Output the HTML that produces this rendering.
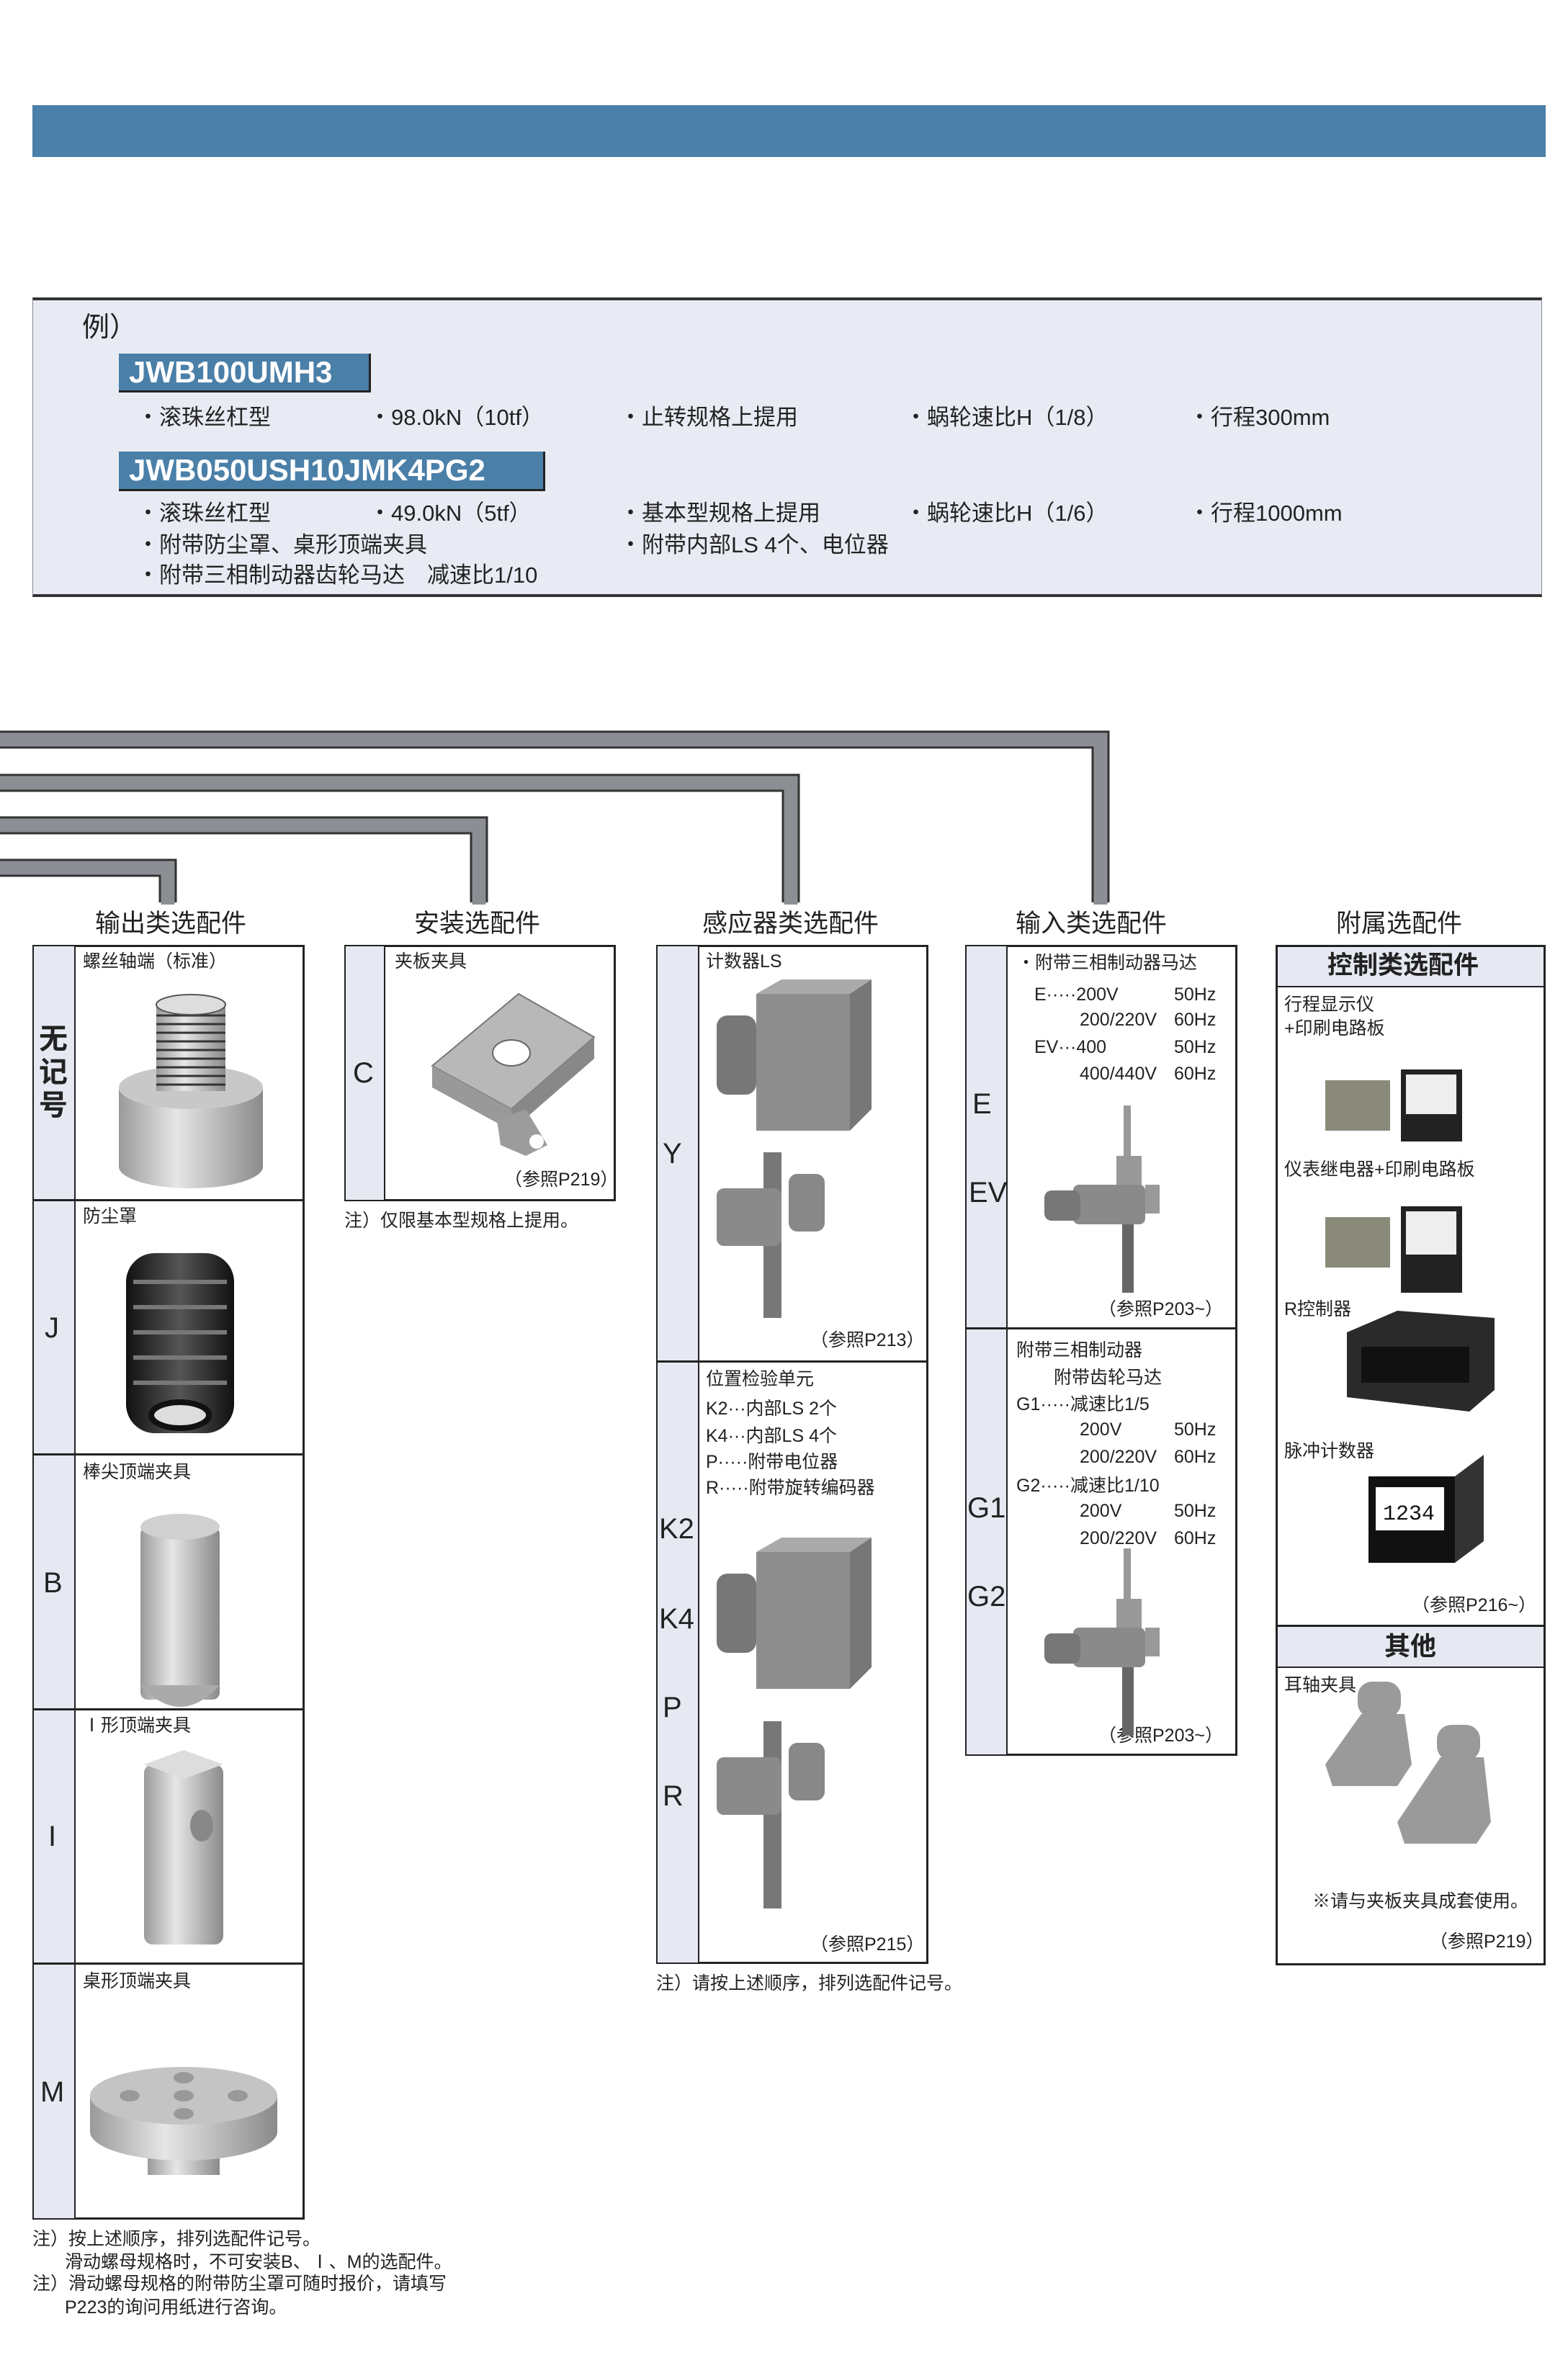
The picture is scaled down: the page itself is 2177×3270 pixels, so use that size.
<!DOCTYPE html>
<html><head><meta charset="utf-8"><style>
*{margin:0;padding:0;box-sizing:border-box}
body{width:2177px;height:3270px;background:#fff;position:relative;overflow:hidden;font-family:"Liberation Sans","Noto Sans CJK SC",sans-serif;color:#222}
.a{position:absolute;white-space:nowrap;line-height:1}
.t{font-size:31px}
.s{font-size:25px}
.box{position:absolute;border:3px solid #222;background:#fff}
.strip{position:absolute;background:#e6e9f2;border-right:2px solid #222}
.hl{position:absolute;height:3px;background:#222}
.big{font-size:40px}
.hd{font-size:35px}
.code{position:absolute;background:#4a7fa8;color:#fff;font-weight:bold;font-size:42px;border-bottom:3px solid #222;border-right:3px solid #222;padding-left:14px;line-height:52px}
</style></head><body>
<div style="position:absolute;left:45px;top:146px;width:2101px;height:72px;background:#4a80aa"></div>

<div style="position:absolute;left:45px;top:413px;width:2096px;height:416px;background:#e8ebf3;border-top:4px solid #333;border-bottom:4px solid #333;border-left:1px solid #888;border-right:1px solid #888"></div>
<div class="a" style="left:114px;top:436px;font-size:38px">例）</div>
<div class="code" style="left:165px;top:491px;width:350px;height:54px">JWB100UMH3</div>
<div class="a t" style="left:190px;top:564px">・滚珠丝杠型</div>
<div class="a t" style="left:512px;top:564px">・98.0kN（10tf）</div>
<div class="a t" style="left:860px;top:564px">・止转规格上提用</div>
<div class="a t" style="left:1256px;top:564px">・蜗轮速比H（1/8）</div>
<div class="a t" style="left:1650px;top:564px">・行程300mm</div>
<div class="code" style="left:165px;top:627px;width:592px;height:55px">JWB050USH10JMK4PG2</div>
<div class="a t" style="left:190px;top:697px">・滚珠丝杠型</div>
<div class="a t" style="left:512px;top:697px">・49.0kN（5tf）</div>
<div class="a t" style="left:860px;top:697px">・基本型规格上提用</div>
<div class="a t" style="left:1256px;top:697px">・蜗轮速比H（1/6）</div>
<div class="a t" style="left:1650px;top:697px">・行程1000mm</div>
<div class="a t" style="left:190px;top:741px">・附带防尘罩、桌形顶端夹具</div>
<div class="a t" style="left:860px;top:741px">・附带内部LS 4个、电位器</div>
<div class="a t" style="left:190px;top:783px">・附带三相制动器齿轮马达　减速比1/10</div>

<svg style="position:absolute;left:0;top:0" width="2177" height="1300">
<g fill="none" stroke-linejoin="miter" stroke-linecap="butt">
<path d="M-10 1027H1528V1253" stroke="#333" stroke-width="25"/>
<path d="M-10 1087H1098V1253" stroke="#333" stroke-width="25"/>
<path d="M-10 1146H665V1253" stroke="#333" stroke-width="25"/>
<path d="M-10 1205H233V1253" stroke="#333" stroke-width="25"/>
<path d="M-10 1027H1528V1256" stroke="#8b8e93" stroke-width="19"/>
<path d="M-10 1087H1098V1256" stroke="#8b8e93" stroke-width="19"/>
<path d="M-10 1146H665V1256" stroke="#8b8e93" stroke-width="19"/>
<path d="M-10 1205H233V1256" stroke="#8b8e93" stroke-width="19"/>
</g></svg>

<div class="a hd" style="left:132px;top:1265px">输出类选配件</div>
<div class="a hd" style="left:575px;top:1265px">安装选配件</div>
<div class="a hd" style="left:975px;top:1265px">感应器类选配件</div>
<div class="a hd" style="left:1410px;top:1265px">输入类选配件</div>
<div class="a hd" style="left:1855px;top:1265px">附属选配件</div>

<!-- Col1 -->
<div class="box" style="left:45px;top:1312px;width:378px;height:1770px"></div>
<div class="strip" style="left:47px;top:1314px;width:58px;height:1766px"></div>
<div class="hl" style="left:45px;top:1665px;width:378px"></div>
<div class="hl" style="left:45px;top:2018px;width:378px"></div>
<div class="hl" style="left:45px;top:2372px;width:378px"></div>
<div class="hl" style="left:45px;top:2725px;width:378px"></div>
<div class="a s" style="left:115px;top:1323px">螺丝轴端（标准）</div>
<div class="a s" style="left:115px;top:1677px">防尘罩</div>
<div class="a s" style="left:115px;top:2032px">棒尖顶端夹具</div>
<div class="a s" style="left:115px;top:2384px">Ⅰ形顶端夹具</div>
<div class="a s" style="left:115px;top:2739px">桌形顶端夹具</div>
<div class="a" style="left:54px;top:1420px;font-size:40px;line-height:46px;white-space:normal;width:44px;font-weight:bold">无<br>记<br>号</div>
<div class="a big" style="left:62px;top:1824px">J</div>
<div class="a big" style="left:60px;top:2178px">B</div>
<div class="a big" style="left:67px;top:2530px">I</div>
<div class="a big" style="left:56px;top:2885px">M</div>
<svg style="position:absolute;left:105px;top:1340px" width="318" height="1740">
<defs>
<linearGradient id="g" x1="0" x2="1"><stop offset="0" stop-color="#9a9a9a"/><stop offset=".4" stop-color="#e6e6e6"/><stop offset="1" stop-color="#8a8a8a"/></linearGradient>
<linearGradient id="k" x1="0" x2="1"><stop offset="0" stop-color="#111"/><stop offset=".5" stop-color="#555"/><stop offset="1" stop-color="#111"/></linearGradient>
</defs>
<path d="M60 170 A100 30 0 0 0 260 170 V280 A100 30 0 0 1 60 280Z" fill="url(#g)"/>
<ellipse cx="160" cy="170" rx="100" ry="30" fill="#c8c8c8"/>
<rect x="112" y="55" width="96" height="120" fill="url(#g)"/>
<g stroke="#333" stroke-width="3">
<line x1="112" y1="70" x2="208" y2="70"/><line x1="112" y1="82" x2="208" y2="82"/><line x1="112" y1="94" x2="208" y2="94"/><line x1="112" y1="106" x2="208" y2="106"/><line x1="112" y1="118" x2="208" y2="118"/><line x1="112" y1="130" x2="208" y2="130"/><line x1="112" y1="142" x2="208" y2="142"/><line x1="112" y1="154" x2="208" y2="154"/><line x1="112" y1="166" x2="208" y2="166"/></g>
<ellipse cx="160" cy="55" rx="48" ry="14" fill="#ddd" stroke="#555" stroke-width="2"/>
<rect x="70" y="400" width="150" height="250" rx="40" fill="url(#k)"/>
<g stroke="#777" stroke-width="6"><line x1="80" y1="440" x2="210" y2="440"/><line x1="80" y1="475" x2="210" y2="475"/><line x1="80" y1="510" x2="210" y2="510"/><line x1="80" y1="545" x2="210" y2="545"/><line x1="80" y1="580" x2="210" y2="580"/></g>
<ellipse cx="145" cy="625" rx="40" ry="18" fill="#ddd" stroke="#111" stroke-width="8"/>
<rect x="90" y="780" width="110" height="240" rx="10" fill="url(#g)"/>
<ellipse cx="145" cy="780" rx="55" ry="18" fill="#d0d0d0"/>
<path d="M90 1000 Q145 1060 200 1000Z" fill="#aaa"/>
<rect x="95" y="1110" width="110" height="250" rx="12" fill="url(#g)"/>
<polygon points="95,1110 150,1090 205,1110 150,1130" fill="#ddd"/>
<ellipse cx="175" cy="1195" rx="16" ry="22" fill="#888"/>
<rect x="100" y="1640" width="100" height="40" fill="url(#g)"/>
<path d="M20 1570 A130 40 0 0 0 280 1570 V1620 A130 40 0 0 1 20 1620Z" fill="url(#g)"/>
<ellipse cx="150" cy="1570" rx="130" ry="40" fill="#c4c4c4"/>
<g fill="#999"><ellipse cx="150" cy="1545" rx="14" ry="8"/><ellipse cx="150" cy="1570" rx="14" ry="8"/><ellipse cx="150" cy="1595" rx="14" ry="8"/><ellipse cx="75" cy="1570" rx="14" ry="8"/><ellipse cx="225" cy="1570" rx="14" ry="8"/></g>
</svg>
<div class="a s" style="left:45px;top:3097px">注）按上述顺序，排列选配件记号。</div>
<div class="a s" style="left:90px;top:3129px">滑动螺母规格时，不可安装B、Ⅰ、M的选配件。</div>
<div class="a s" style="left:45px;top:3159px">注）滑动螺母规格的附带防尘罩可随时报价，请填写</div>
<div class="a s" style="left:90px;top:3192px">P223的询问用纸进行咨询。</div>

<!-- Col2 -->
<div class="box" style="left:478px;top:1312px;width:377px;height:356px"></div>
<div class="strip" style="left:480px;top:1314px;width:55px;height:352px"></div>
<div class="a s" style="left:548px;top:1323px">夹板夹具</div>
<div class="a big" style="left:490px;top:1470px">C</div>
<svg style="position:absolute;left:560px;top:1370px" width="270" height="240">
<polygon points="40,110 160,10 265,70 150,170" fill="#b8b8b8" stroke="#777" stroke-width="2"/>
<polygon points="40,110 150,170 150,200 40,140" fill="#999"/>
<polygon points="150,170 265,70 265,100 150,200" fill="#888"/>
<polygon points="130,185 170,170 200,220 170,235 135,220" fill="#9c9c9c"/>
<ellipse cx="150" cy="92" rx="26" ry="18" fill="#fff" stroke="#666" stroke-width="2"/>
<circle cx="185" cy="215" r="10" fill="#fff"/>
</svg>
<div class="a s" style="left:700px;top:1626px">（参照P219）</div>
<div class="a s" style="left:478px;top:1683px">注）仅限基本型规格上提用。</div>

<!-- Col3 -->
<div class="box" style="left:911px;top:1312px;width:378px;height:1415px"></div>
<div class="strip" style="left:913px;top:1314px;width:58px;height:1411px"></div>
<div class="hl" style="left:911px;top:1889px;width:378px"></div>
<div class="a s" style="left:980px;top:1323px">计数器LS</div>
<div class="a big" style="left:920px;top:1582px">Y</div>
<div class="a s" style="left:1125px;top:1849px">（参照P213）</div>
<div class="a s" style="left:980px;top:1903px">位置检验单元</div>
<div class="a s" style="left:980px;top:1944px">K2···内部LS 2个</div>
<div class="a s" style="left:980px;top:1982px">K4···内部LS 4个</div>
<div class="a s" style="left:980px;top:2018px">P·····附带电位器</div>
<div class="a s" style="left:980px;top:2054px">R·····附带旋转编码器</div>
<div class="a big" style="left:915px;top:2103px">K2</div>
<div class="a big" style="left:915px;top:2228px">K4</div>
<div class="a big" style="left:920px;top:2351px">P</div>
<div class="a big" style="left:920px;top:2474px">R</div>
<div class="a s" style="left:1125px;top:2688px">（参照P215）</div>
<svg style="position:absolute;left:975px;top:1360px" width="300" height="1300">
<g id="ls"><rect x="75" y="20" width="130" height="190" fill="#8d8d8d"/><polygon points="75,20 110,0 235,0 205,20" fill="#aaa"/><polygon points="205,20 235,0 235,180 205,210" fill="#777"/><rect x="20" y="50" width="55" height="110" rx="15" fill="#777"/></g>
<g><rect x="85" y="240" width="25" height="230" fill="#777"/><rect x="20" y="290" width="90" height="80" rx="10" fill="#8a8a8a"/><rect x="120" y="270" width="50" height="80" rx="12" fill="#888"/></g>
<use href="#ls" y="775"/>
<g transform="translate(0,790)"><rect x="85" y="240" width="25" height="260" fill="#777"/><rect x="20" y="290" width="90" height="80" rx="10" fill="#8a8a8a"/><rect x="120" y="270" width="50" height="80" rx="12" fill="#888"/></g>
</svg>
<div class="a s" style="left:911px;top:2742px">注）请按上述顺序，排列选配件记号。</div>

<!-- Col4 -->
<div class="box" style="left:1340px;top:1312px;width:378px;height:1126px"></div>
<div class="strip" style="left:1342px;top:1314px;width:57px;height:1122px"></div>
<div class="hl" style="left:1340px;top:1843px;width:378px"></div>
<div class="a s" style="left:1412px;top:1325px">・附带三相制动器马达</div>
<div class="a s" style="left:1436px;top:1369px">E·····200V</div><div class="a s" style="left:1630px;top:1369px">50Hz</div>
<div class="a s" style="left:1499px;top:1404px">200/220V</div><div class="a s" style="left:1630px;top:1404px">60Hz</div>
<div class="a s" style="left:1436px;top:1442px">EV···400</div><div class="a s" style="left:1630px;top:1442px">50Hz</div>
<div class="a s" style="left:1499px;top:1479px">400/440V</div><div class="a s" style="left:1630px;top:1479px">60Hz</div>
<div class="a big" style="left:1350px;top:1513px">E</div>
<div class="a big" style="left:1345px;top:1636px">EV</div>
<div class="a s" style="left:1525px;top:1806px">（参照P203~）</div>
<div class="a s" style="left:1411px;top:1863px">附带三相制动器</div>
<div class="a s" style="left:1463px;top:1901px">附带齿轮马达</div>
<div class="a s" style="left:1411px;top:1938px">G1·····减速比1/5</div>
<div class="a s" style="left:1499px;top:1973px">200V</div><div class="a s" style="left:1630px;top:1973px">50Hz</div>
<div class="a s" style="left:1499px;top:2011px">200/220V</div><div class="a s" style="left:1630px;top:2011px">60Hz</div>
<div class="a s" style="left:1411px;top:2051px">G2·····减速比1/10</div>
<div class="a s" style="left:1499px;top:2086px">200V</div><div class="a s" style="left:1630px;top:2086px">50Hz</div>
<div class="a s" style="left:1499px;top:2124px">200/220V</div><div class="a s" style="left:1630px;top:2124px">60Hz</div>
<div class="a big" style="left:1343px;top:2074px">G1</div>
<div class="a big" style="left:1343px;top:2197px">G2</div>
<div class="a s" style="left:1525px;top:2398px">（参照P203~）</div>
<svg style="position:absolute;left:1450px;top:1535px" width="240" height="900">
<g id="mot"><rect x="110" y="0" width="10" height="80" fill="#999"/><rect x="100" y="70" width="35" height="50" fill="#999"/><rect x="40" y="110" width="100" height="55" rx="8" fill="#8a8a8a"/><rect x="0" y="118" width="50" height="42" rx="10" fill="#777"/><rect x="140" y="110" width="20" height="40" fill="#999"/><rect x="108" y="165" width="16" height="95" fill="#666"/></g>
<use href="#mot" y="615"/>
</svg>

<!-- Col5 -->
<div class="box" style="left:1771px;top:1312px;width:375px;height:1417px"></div>
<div style="position:absolute;left:1774px;top:1315px;width:369px;height:56px;background:#e6e9f2;border-bottom:2px solid #222"></div>
<div class="a" style="left:1843px;top:1323px;font-size:35px;font-weight:bold">控制类选配件</div>
<div style="position:absolute;left:1774px;top:2256px;width:369px;height:60px;background:#e6e9f2;border-top:3px solid #222;border-bottom:2px solid #222"></div>
<div class="a" style="left:1922px;top:2268px;font-size:36px;font-weight:bold">其他</div>
<div class="a s" style="left:1783px;top:1383px">行程显示仪</div>
<div class="a s" style="left:1783px;top:1416px">+印刷电路板</div>
<div class="a s" style="left:1783px;top:1612px">仪表继电器+印刷电路板</div>
<div class="a s" style="left:1783px;top:1806px">R控制器</div>
<div class="a s" style="left:1783px;top:2003px">脉冲计数器</div>
<div class="a s" style="left:1960px;top:2217px">（参照P216~）</div>
<div class="a s" style="left:1783px;top:2328px">耳轴夹具</div>
<div class="a s" style="left:1822px;top:2628px">※请与夹板夹具成套使用。</div>
<div class="a s" style="left:1985px;top:2684px">（参照P219）</div>
<svg style="position:absolute;left:1830px;top:1450px" width="300" height="1150">
<g><rect x="10" y="50" width="90" height="70" fill="#8a8a7a"/><rect x="115" y="35" width="85" height="100" fill="#222"/><rect x="122" y="42" width="70" height="55" fill="#eee"/></g>
<g transform="translate(0,190)"><rect x="10" y="50" width="90" height="70" fill="#8a8a7a"/><rect x="115" y="35" width="85" height="120" fill="#222"/><rect x="122" y="42" width="70" height="60" fill="#eee"/></g>
<polygon points="40,400 110,370 245,380 245,480 210,510 40,490" fill="#2a2a2a"/>
<rect x="60" y="420" width="150" height="50" fill="#111"/>
<rect x="70" y="600" width="120" height="120" fill="#111"/><rect x="80" y="615" width="95" height="60" fill="#fff"/><polygon points="190,600 230,570 230,690 190,720" fill="#333"/><text x="90" y="660" font-size="30" fill="#111" font-family="Liberation Mono">1234</text>
<g fill="#9a9a9a"><polygon points="10,1000 60,930 120,930 130,1000 110,1030 20,1030"/><rect x="55" y="885" width="60" height="50" rx="20"/><polygon points="110,1080 170,990 230,990 240,1080 220,1110 120,1110"/><rect x="165" y="945" width="60" height="50" rx="20"/></g>
</svg>
</body></html>
